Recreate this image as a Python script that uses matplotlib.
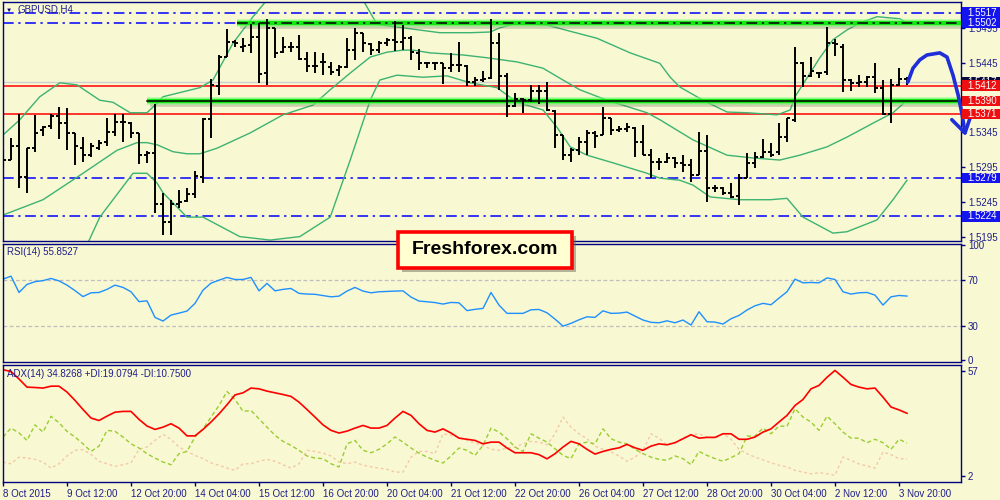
import matplotlib
matplotlib.use("Agg")
import matplotlib.pyplot as plt
import matplotlib.transforms as mtransforms
from matplotlib.patches import Rectangle

plt.rcParams['font.family'] = ['Liberation Sans', 'DejaVu Sans']

# ---------------- DATA ----------------
symbol_title = "GBPUSD,H4"
rsi_title = "RSI(14) 55.8527"
adx_title = "ADX(14) 34.8268 +DI:19.0794 -DI:10.7500"

date_labels = ["8 Oct 2015", "9 Oct 12:00", "12 Oct 20:00", "14 Oct 04:00", "15 Oct 12:00",
               "16 Oct 20:00", "20 Oct 04:00", "21 Oct 12:00", "22 Oct 20:00", "26 Oct 04:00",
               "27 Oct 12:00", "28 Oct 20:00", "30 Oct 04:00", "2 Nov 12:00", "3 Nov 20:00"]
date_label_bars = [0, 8, 16, 24, 32, 40, 48, 56, 64, 72, 80, 88, 96, 104, 112]

ohlc = [
    (1.5308, 1.5318, 1.5294, 1.5305), (1.5305, 1.5337, 1.5305, 1.5325), (1.5325, 1.5371, 1.5265, 1.5280),
    (1.5280, 1.5323, 1.5258, 1.5323), (1.5323, 1.5370, 1.5316, 1.5344), (1.5348, 1.5354, 1.5340, 1.5353),
    (1.5354, 1.5371, 1.5350, 1.5368), (1.5368, 1.5381, 1.5335, 1.5358), (1.5358, 1.5380, 1.5319, 1.5344),
    (1.5344, 1.5344, 1.5298, 1.5325), (1.5323, 1.5338, 1.5302, 1.5312), (1.5312, 1.5329, 1.5309, 1.5325),
    (1.5323, 1.5334, 1.5319, 1.5329), (1.5331, 1.5365, 1.5325, 1.5345), (1.5345, 1.5371, 1.5340, 1.5360),
    (1.5360, 1.5371, 1.5331, 1.5360), (1.5358, 1.5360, 1.5337, 1.5344), (1.5344, 1.5344, 1.5299, 1.5312),
    (1.5312, 1.5318, 1.5301, 1.5315), (1.5315, 1.5386, 1.5229, 1.5242), (1.5242, 1.5258, 1.5197, 1.5216),
    (1.5216, 1.5248, 1.5197, 1.5242), (1.5242, 1.5262, 1.5236, 1.5245), (1.5246, 1.5265, 1.5245, 1.5256),
    (1.5256, 1.5289, 1.5251, 1.5282), (1.5280, 1.5365, 1.5272, 1.5364), (1.5364, 1.5421, 1.5337, 1.5413),
    (1.5411, 1.5456, 1.5399, 1.5453), (1.5453, 1.5493, 1.5453, 1.5475), (1.5475, 1.5478, 1.5467, 1.5473),
    (1.5467, 1.5480, 1.5460, 1.5469), (1.5470, 1.5500, 1.5459, 1.5482), (1.5482, 1.5502, 1.5416, 1.5429),
    (1.5430, 1.5508, 1.5413, 1.5495), (1.5495, 1.5495, 1.5452, 1.5459), (1.5460, 1.5482, 1.5459, 1.5467),
    (1.5467, 1.5475, 1.5460, 1.5467), (1.5467, 1.5485, 1.5449, 1.5450), (1.5450, 1.5460, 1.5432, 1.5440),
    (1.5440, 1.5460, 1.5430, 1.5440), (1.5446, 1.5459, 1.5427, 1.5446), (1.5439, 1.5446, 1.5427, 1.5432),
    (1.5434, 1.5442, 1.5426, 1.5439), (1.5439, 1.5480, 1.5437, 1.5463), (1.5463, 1.5495, 1.5449, 1.5488),
    (1.5488, 1.5488, 1.5460, 1.5473), (1.5472, 1.5473, 1.5456, 1.5463), (1.5463, 1.5476, 1.5459, 1.5473),
    (1.5473, 1.5480, 1.5469, 1.5478), (1.5478, 1.5505, 1.5462, 1.5475), (1.5475, 1.5499, 1.5463, 1.5480),
    (1.5480, 1.5483, 1.5449, 1.5460), (1.5459, 1.5465, 1.5434, 1.5444), (1.5444, 1.5446, 1.5437, 1.5444),
    (1.5444, 1.5444, 1.5434, 1.5444), (1.5444, 1.5444, 1.5414, 1.5437), (1.5437, 1.5459, 1.5432, 1.5442),
    (1.5442, 1.5475, 1.5432, 1.5442), (1.5440, 1.5442, 1.5411, 1.5417), (1.5417, 1.5424, 1.5411, 1.5420),
    (1.5420, 1.5433, 1.5417, 1.5421), (1.5423, 1.5508, 1.5421, 1.5473), (1.5473, 1.5488, 1.5406, 1.5426),
    (1.5426, 1.5430, 1.5367, 1.5383), (1.5383, 1.5401, 1.5381, 1.5393), (1.5393, 1.5394, 1.5373, 1.5391),
    (1.5391, 1.5413, 1.5388, 1.5404), (1.5404, 1.5413, 1.5386, 1.5404), (1.5404, 1.5417, 1.5375, 1.5377),
    (1.5375, 1.5377, 1.5323, 1.5341), (1.5341, 1.5341, 1.5305, 1.5312), (1.5312, 1.5323, 1.5302, 1.5319),
    (1.5319, 1.5338, 1.5312, 1.5331), (1.5331, 1.5348, 1.5312, 1.5344), (1.5344, 1.5347, 1.5322, 1.5340),
    (1.5341, 1.5381, 1.5341, 1.5365), (1.5365, 1.5365, 1.5341, 1.5348), (1.5348, 1.5354, 1.5345, 1.5350),
    (1.5350, 1.5358, 1.5345, 1.5353), (1.5351, 1.5353, 1.5309, 1.5331), (1.5331, 1.5355, 1.5312, 1.5312),
    (1.5312, 1.5321, 1.5279, 1.5302), (1.5302, 1.5308, 1.5291, 1.5302), (1.5302, 1.5315, 1.5301, 1.5308),
    (1.5308, 1.5309, 1.5294, 1.5301), (1.5301, 1.5312, 1.5288, 1.5298), (1.5298, 1.5306, 1.5273, 1.5284),
    (1.5284, 1.5345, 1.5284, 1.5318), (1.5318, 1.5341, 1.5245, 1.5265), (1.5265, 1.5269, 1.5259, 1.5265),
    (1.5265, 1.5266, 1.5255, 1.5258), (1.5258, 1.5272, 1.5251, 1.5252), (1.5253, 1.5285, 1.5240, 1.5279),
    (1.5279, 1.5315, 1.5279, 1.5301), (1.5301, 1.5316, 1.5294, 1.5309), (1.5309, 1.5335, 1.5308, 1.5316),
    (1.5316, 1.5329, 1.5309, 1.5312), (1.5316, 1.5358, 1.5312, 1.5338), (1.5338, 1.5365, 1.5331, 1.5365),
    (1.5363, 1.5467, 1.5360, 1.5444), (1.5444, 1.5446, 1.5410, 1.5426), (1.5426, 1.5453, 1.5424, 1.5433),
    (1.5430, 1.5431, 1.5423, 1.5430), (1.5431, 1.5496, 1.5427, 1.5473), (1.5473, 1.5479, 1.5455, 1.5472),
    (1.5467, 1.5472, 1.5403, 1.5420), (1.5420, 1.5421, 1.5404, 1.5416), (1.5416, 1.5427, 1.5410, 1.5417),
    (1.5417, 1.5426, 1.5410, 1.5424), (1.5424, 1.5444, 1.5401, 1.5408), (1.5408, 1.5420, 1.5370, 1.5371),
    (1.5371, 1.5421, 1.5358, 1.5413), (1.5413, 1.5437, 1.5411, 1.5421), (1.5421, 1.5424, 1.5413, 1.5418),
]

bb_upper_bar = [0, 2.1, 4.6, 7.1, 9.25, 12.1, 13.75, 15.9, 18, 19, 20, 24.6, 26.25, 28.75, 31.25, 33,
                35.9, 39.6, 43.4, 45, 46.75, 54.6, 58.4, 60.9, 62.1, 64.25, 68, 71.25, 74.25, 78.4,
                82.1, 83.4, 84.6, 87.5, 90.5, 93, 96.75, 98.4, 99, 102.1, 103.75, 105.5, 107.1,
                109.25, 112.1, 113]
bb_upper = [1.5341, 1.5363, 1.5396, 1.5416, 1.5413, 1.5391, 1.5388, 1.5373, 1.5373, 1.5384, 1.5396,
            1.5409, 1.5420, 1.5473, 1.5511, 1.5535, 1.5552, 1.5567, 1.5557, 1.5535, 1.5500, 1.5488,
            1.5488, 1.5489, 1.5495, 1.5502, 1.5499, 1.5489, 1.5480, 1.5459, 1.5444, 1.5424, 1.5410,
            1.5391, 1.5374, 1.5373, 1.5370, 1.5377, 1.5396, 1.5452, 1.5478, 1.5492, 1.5502, 1.5511,
            1.5508, 1.5502]
bb_mid_bar = [0, 5, 10, 14.25, 16.75, 18, 19.25, 21.25, 23, 24.6, 26.75, 30.9, 35, 38.75, 40.9, 43.4,
              45.9, 48, 50, 51.25, 53.4, 57.5, 60.5, 64.25, 67.5, 70, 72.1, 75.5, 80.5, 82.1, 86.25,
              90.5, 93.75, 97.1, 99.6, 103, 105.5, 108.75, 111.25, 113]
bb_mid = [1.5226, 1.5248, 1.5286, 1.5319, 1.5330, 1.5330, 1.5327, 1.5317, 1.5314, 1.5314, 1.5322,
          1.5344, 1.5370, 1.5384, 1.5406, 1.5430, 1.5453, 1.5460, 1.5463, 1.5463, 1.5459, 1.5456,
          1.5452, 1.5446, 1.5437, 1.5420, 1.5406, 1.5391, 1.5373, 1.5363, 1.5334, 1.5312, 1.5308,
          1.5305, 1.5312, 1.5324, 1.5338, 1.5358, 1.5373, 1.5391]
bb_lower_bar = [7, 10.5, 12.1, 16.25, 18, 19.25, 20, 23, 25, 29.6, 33.4, 37.1, 40.9, 43.4, 45.9, 47.1,
                49.25, 52.5, 55.5, 58.4, 61.75, 64.25, 67.5, 69.25, 70.9, 73, 76.25, 80.5, 82.1, 84.6,
                86.25, 88.4, 92.1, 95.9, 98, 100, 103.75, 105.5, 109.25, 111.25, 113]
bb_lower = [1.5150, 1.5183, 1.5223, 1.5286, 1.5286, 1.5272, 1.5258, 1.5223, 1.5223, 1.5195, 1.5190,
            1.5195, 1.5223, 1.5305, 1.5391, 1.5420, 1.5427, 1.5424, 1.5426, 1.5416, 1.5409, 1.5388,
            1.5377, 1.5352, 1.5324, 1.5312, 1.5301, 1.5286, 1.5279, 1.5276, 1.5269, 1.5252, 1.5248,
            1.5248, 1.5250, 1.5223, 1.5200, 1.5202, 1.5219, 1.5248, 1.5276]

rsi = [70.6, 73.2, 59.0, 66.0, 68.4, 69.3, 71.2, 69.1, 65.4, 60.6,
       55.4, 58.7, 59.0, 61.7, 65.4, 63.4, 59.6, 51.0, 51.7, 37.3,
       34.1, 39.3, 41.0, 42.8, 49.5, 61.0, 67.1, 69.7, 72.1, 70.3,
       70.3, 72.1, 60.4, 66.9, 60.4, 61.7, 62.5, 58.2, 57.6, 57.4,
       56.3, 55.2, 55.8, 60.2, 63.4, 60.2, 58.7, 59.6, 59.9, 60.2,
       60.4, 55.0, 51.5, 50.9, 50.2, 48.9, 50.3, 50.0, 43.2, 44.3,
       45.1, 59.0, 48.0, 40.8, 40.8, 40.8, 43.9, 44.2, 41.3, 35.8,
       29.7, 32.1, 35.2, 37.8, 37.3, 43.0, 40.8, 41.0, 41.9, 38.4,
       35.0, 33.0, 32.6, 34.3, 32.6, 35.0, 30.6, 42.2, 33.5, 33.2,
       31.5, 36.1, 39.0, 43.7, 47.4, 49.5, 48.3, 54.1, 59.6, 70.6,
       67.4, 67.7, 67.4, 71.7, 70.3, 59.6, 57.6, 58.7, 59.0, 56.7,
       48.0, 55.2, 56.4, 55.85]

adx = [57.8, 56.8, 52.9, 48.6, 48.4, 48.1, 49.1, 49.1, 46.0, 41.6,
       36.8, 32.3, 31.0, 33.3, 35.4, 35.8, 35.8, 31.6, 28.1, 26.3,
       27.5, 29.3, 27.0, 22.9, 22.9, 26.3, 30.2, 34.5, 39.3, 44.5,
       45.6, 48.1, 47.7, 46.5, 45.6, 44.7, 43.7, 40.7, 36.8, 32.8,
       28.7, 25.8, 24.4, 25.4, 27.0, 28.4, 27.0, 27.0, 28.4, 32.3,
       35.8, 33.7, 29.3, 25.8, 24.9, 26.6, 24.4, 21.7, 21.1, 20.5,
       18.7, 19.6, 19.6, 16.5, 14.0, 14.0, 14.0, 13.0, 10.8, 13.5,
       17.0, 20.0, 18.7, 15.8, 13.3, 14.7, 15.8, 16.6, 18.4, 16.6,
       15.3, 17.5, 18.7, 18.2, 19.3, 21.4, 23.5, 21.7, 22.1, 22.1,
       24.0, 24.0, 21.1, 21.1, 22.3, 24.9, 26.6, 30.2, 33.7, 38.9,
       42.1, 47.7, 49.5, 53.8, 57.4, 53.8, 50.0, 48.6, 47.7, 48.1,
       43.3, 38.1, 36.6, 34.8]

plus_di = [22.3, 27.0, 24.5, 20.5, 28.7, 24.9, 33.2, 29.8, 25.3, 22.3,
           18.7, 14.7, 17.5, 25.8, 25.3, 22.3, 18.7, 16.5, 13.5, 11.2,
           9.1, 7.7, 13.5, 14.7, 22.3, 26.6, 32.8, 38.9, 46.3, 42.1,
           35.8, 36.3, 31.9, 27.5, 23.2, 20.0, 17.9, 15.3, 12.3, 11.2,
           10.9, 8.2, 6.5, 18.7, 20.5, 15.3, 14.0, 15.8, 18.7, 22.3,
           19.6, 16.5, 13.8, 11.7, 10.0, 8.6, 12.3, 16.5, 15.3, 12.6,
           17.9, 27.0, 24.9, 21.4, 17.0, 14.7, 24.0, 21.7, 19.6, 16.1,
           12.6, 10.9, 18.7, 19.6, 18.7, 26.6, 21.4, 19.6, 18.7, 15.8,
           13.5, 11.7, 10.5, 10.0, 12.3, 10.9, 7.7, 14.7, 12.6, 10.9,
           9.5, 11.4, 13.5, 22.8, 22.8, 27.0, 24.0, 28.1, 27.9, 37.2,
           32.8, 30.2, 25.8, 33.3, 29.3, 24.9, 21.7, 21.7, 19.3, 21.1,
           19.3, 15.8, 21.1, 19.1]

minus_di = [9.1, 8.2, 11.7, 11.2, 10.5, 9.1, 5.9, 8.2, 12.3, 15.3,
            15.6, 13.2, 9.5, 8.2, 6.8, 7.7, 8.7, 15.8, 17.0, 20.5,
            23.7, 21.1, 17.0, 14.7, 12.6, 10.9, 8.7, 7.4, 5.9, 4.7,
            8.2, 8.2, 9.5, 10.5, 9.5, 7.7, 5.9, 8.2, 15.3, 14.7,
            13.8, 12.3, 9.1, 8.2, 9.1, 7.4, 6.6, 5.9, 5.3, 3.8,
            3.8, 11.7, 14.7, 14.7, 13.5, 24.0, 23.2, 22.3, 20.5, 19.1,
            17.9, 15.8, 15.3, 16.5, 17.0, 18.7, 20.0, 19.6, 18.2, 24.0,
            32.8, 27.5, 24.0, 21.4, 17.5, 15.8, 14.4, 12.3, 9.5, 11.7,
            15.3, 24.0, 21.7, 18.2, 19.3, 21.7, 23.5, 24.0, 22.3, 21.7,
            24.0, 21.1, 15.8, 13.5, 11.7, 10.3, 8.7, 7.4, 6.5, 4.7,
            3.8, 2.9, 3.5, 2.9, 2.1, 11.7, 10.0, 8.1, 7.0, 5.9,
            14.4, 13.0, 10.9, 10.75]

price_ticks = [1.5195, 1.5245, 1.5295, 1.5345, 1.5395, 1.5445, 1.5495]
hidden_price_ticks = [1.5395]          # fully covered by the 1.5390 box in the reference
blue_levels = [1.5517, 1.5502, 1.5279, 1.5224]
red_levels = [1.5412, 1.5371]
green_levels = [1.5502, 1.5390]
green_start_bar = [29.25, 18.0]
current_price = 1.5417
red_label_levels = [1.5412, 1.5390, 1.5371]

forecast_bar = [113.1, 113.75, 114.6, 115.5, 117.1, 118.0, 118.75, 119.4, 119.9, 120.25]
forecast_price = [1.5417, 1.5437, 1.5449, 1.5456, 1.5459, 1.5453, 1.5427, 1.5398, 1.5370, 1.5344]
arrowhead_bar = [118.6, 120.25, 121.1]
arrowhead_price = [1.5363, 1.5344, 1.5373]

watermark = "Freshforex.com"

# ---------------- STYLE ----------------
BG = '#F8F8D2'
NAVY = '#000080'
TXT = '#1E1E8C'
W, H = 1000.0, 500.0
PX = 0.0001437          # price per pixel in the main panel
left_px, right_px = 2.6, 961.0
XMIN = (left_px - 3) / 8.0
XMAX = (right_px - 3) / 8.0

fig = plt.figure(figsize=(10, 5), dpi=100, facecolor=BG)

def axes_rect(top_px, bottom_px):
    return [left_px / W, 1 - bottom_px / H, (right_px - left_px) / W, (bottom_px - top_px) / H]

ax = fig.add_axes(axes_rect(2, 241))
ax_rsi = fig.add_axes(axes_rect(243.5, 362.3))
ax_adx = fig.add_axes(axes_rect(364.5, 482))

for a in (ax, ax_rsi, ax_adx):
    a.set_facecolor(BG)
    a.set_xlim(XMIN, XMAX)
    for s in a.spines.values():
        s.set_color(NAVY)
        s.set_linewidth(1.0)
    a.yaxis.tick_right()
    a.tick_params(axis='y', length=3, width=1, color=NAVY, labelcolor=TXT, labelsize=7, pad=2)
    a.tick_params(axis='x', length=0, labelbottom=False)

# ---------- main panel ----------
ax.set_ylim(1.5535 - 241 * PX, 1.5535 - 2 * PX)
ax.set_yticks(price_ticks)
ax.set_yticklabels(["" if t in hidden_price_ticks else f"{t:.4f}" for t in price_ticks])

n = len(ohlc)
bars = list(range(n))
opens = [b[0] for b in ohlc]
highs = [b[1] for b in ohlc]
lows = [b[2] for b in ohlc]
closes = [b[3] for b in ohlc]

# horizontal levels
ax.axhline(current_price, color='#CFCFCF', lw=1, zorder=1)
for p in blue_levels:
    ax.axhline(p, color='#0000FF', lw=1.1, linestyle=(0, (7, 3, 1.5, 3)), zorder=1)
for p in red_levels:
    ax.axhline(p, color='#FF0000', lw=1.1, zorder=1)

# Bollinger bands
bb_col = '#3CB371'
ax.plot(bb_upper_bar, bb_upper, color=bb_col, lw=1, zorder=2)
ax.plot(bb_mid_bar, bb_mid, color=bb_col, lw=1, zorder=2)
ax.plot(bb_lower_bar, bb_lower, color=bb_col, lw=1, zorder=2)

# green highlighted levels
for p, st, style in zip(green_levels, green_start_bar, [(0, (7, 3, 1.5, 3)), '-']):
    ax.plot([st + 0.4, XMAX], [p - 3.5 * PX, p - 3.5 * PX], color='#6A6A5A', alpha=0.3, lw=4,
            solid_capstyle='butt', zorder=3)
    ax.plot([st, XMAX], [p, p], color='#80FF80', alpha=0.55, lw=5.5, solid_capstyle='butt', zorder=3)
    ax.plot([st, XMAX], [p, p], color='#14E614', lw=3.2, solid_capstyle='butt', zorder=3)
    ax.plot([st, XMAX], [p, p], color='black', lw=1.1, linestyle=style, zorder=3)

# OHLC bars
ax.vlines(bars, lows, highs, color='black', lw=1.4, zorder=5)
ax.hlines(opens, [b - 0.4 for b in bars], bars, color='black', lw=1.4, zorder=5)
ax.hlines(closes, bars, [b + 0.4 for b in bars], color='black', lw=1.4, zorder=5)

# forecast arrow
ax.plot(forecast_bar, forecast_price, color='#1E2ED8', lw=2.6, clip_on=False, zorder=8,
        solid_capstyle='round', solid_joinstyle='round')
ax.plot(arrowhead_bar, arrowhead_price, color='#1E2ED8', lw=2.6, clip_on=False, zorder=8,
        solid_capstyle='round', solid_joinstyle='round')

# right-side price boxes
btrans = mtransforms.blended_transform_factory(ax.transAxes, ax.transData)
bx0 = (962 - left_px) / (right_px - left_px)
bw = (1003 - 962) / (right_px - left_px)
tx = (967 - left_px) / (right_px - left_px)
bh = 10.5 * PX

def price_box(p, fc, z):
    ax.add_patch(Rectangle((bx0, p - bh / 2), bw, bh, transform=btrans, facecolor=fc,
                           edgecolor='none', clip_on=False, zorder=z))
    ax.text(tx, p, f"{p:.4f}", transform=btrans, color='white', fontsize=7, va='center',
            ha='left', clip_on=False, zorder=z + 0.5)

price_box(current_price, '#0A0A3C', 10)
for p in blue_levels:
    price_box(p, '#1414EE', 11)
for p in red_label_levels:
    price_box(p, '#EE1010', 11)

# titles
fig.text(9 / W, 1 - 10 / H, '\u25BC', fontsize=4.5, color=NAVY, ha='center', va='center')
fig.text(18 / W, 1 - 10 / H, symbol_title, fontsize=7, color=TXT, ha='left', va='center')
fig.text(7 / W, 1 - 252 / H, rsi_title, fontsize=7, color=TXT, ha='left', va='center')
fig.text(7 / W, 1 - 374 / H, adx_title, fontsize=7, color=TXT, ha='left', va='center')

# ---------- RSI panel ----------
ax_rsi.set_ylim(-1.83, 101.65)
ax_rsi.set_yticks([0, 30, 70, 100])
for lv in (30, 70):
    ax_rsi.axhline(lv, color='#BEBEBE', lw=0.9, linestyle=(0, (3, 2)))
ax_rsi.plot(bars, rsi, color='#1E90FF', lw=1)

# ---------- ADX panel ----------
ax_adx.set_ylim(-1.42, 60.53)
ax_adx.set_yticks([2, 57])
ax_adx.plot(bars, minus_di, color='#F5C8A5', lw=1, linestyle=(0, (2, 2)))
ax_adx.plot(bars, plus_di, color='#9ACD32', lw=1, linestyle=(0, (3, 2)))
ax_adx.plot(bars, adx, color='#FF0000', lw=1.2)
ax_adx.set_xticks(date_label_bars)
ax_adx.set_xticklabels(date_labels)
ax_adx.tick_params(axis='x', length=3, width=1, color=NAVY, labelcolor=TXT, labelsize=7,
                   pad=2, labelbottom=True)
for lbl in ax_adx.get_xticklabels():
    lbl.set_horizontalalignment('left')

# ---------- watermark box ----------
x0, y0, x1, y1 = 398, 232, 572, 268
fig.patches.append(Rectangle(((x0 + 4) / W, 1 - (y1 + 4) / H), (x1 - x0) / W, (y1 - y0) / H,
                             transform=fig.transFigure, facecolor='#606050', alpha=0.45,
                             edgecolor='none', zorder=20))
fig.patches.append(Rectangle((x0 / W, 1 - y1 / H), (x1 - x0) / W, (y1 - y0) / H,
                             transform=fig.transFigure, facecolor='#FFFFD2', edgecolor='#FF0000',
                             lw=2.6, zorder=21))
fig.text((x0 + x1) / 2 / W, 1 - (y0 + y1) / 2 / H, watermark, fontsize=14, fontweight='bold',
         color='black', ha='center', va='center', zorder=22)

fig.savefig('out.png', dpi=100, facecolor=BG)
